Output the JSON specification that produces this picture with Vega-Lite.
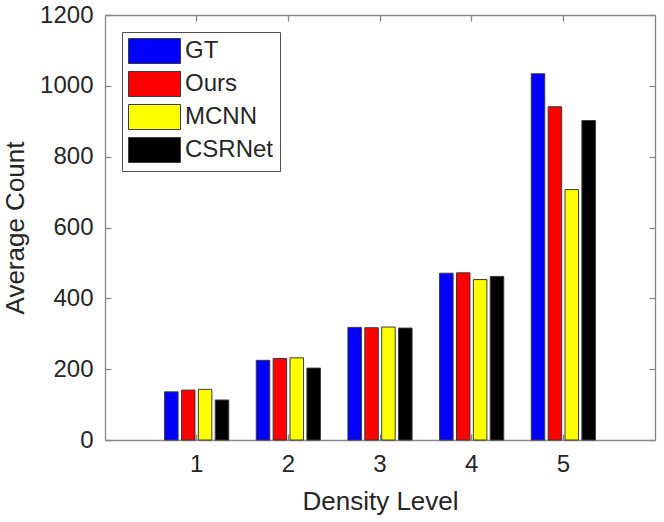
{
  "$schema": "https://vega.github.io/schema/vega-lite/v6.json",
  "autosize": {"type": "none"},
  "padding": {"left": 105, "top": 15, "right": 9, "bottom": 82},
  "width": 550,
  "height": 425,
  "data": {
    "values": [
      {"level": "1", "method": "GT", "count": 136},
      {"level": "1", "method": "Ours", "count": 141},
      {"level": "1", "method": "MCNN", "count": 143},
      {"level": "1", "method": "CSRNet", "count": 113},
      {"level": "2", "method": "GT", "count": 225},
      {"level": "2", "method": "Ours", "count": 230},
      {"level": "2", "method": "MCNN", "count": 232},
      {"level": "2", "method": "CSRNet", "count": 203},
      {"level": "3", "method": "GT", "count": 318},
      {"level": "3", "method": "Ours", "count": 317},
      {"level": "3", "method": "MCNN", "count": 319},
      {"level": "3", "method": "CSRNet", "count": 316},
      {"level": "4", "method": "GT", "count": 471},
      {"level": "4", "method": "Ours", "count": 472},
      {"level": "4", "method": "MCNN", "count": 453},
      {"level": "4", "method": "CSRNet", "count": 462},
      {"level": "5", "method": "GT", "count": 1034},
      {"level": "5", "method": "Ours", "count": 941},
      {"level": "5", "method": "MCNN", "count": 707},
      {"level": "5", "method": "CSRNet", "count": 902}
    ]
  },
  "layer": [
    {
      "mark": {"type": "bar", "stroke": "#3a3a3a", "strokeWidth": 1},
      "encoding": {
        "x": {
          "field": "level", "type": "nominal",
          "scale": {"paddingInner": 0.3, "paddingOuter": 0.65},
          "axis": {"title": "Density Level", "labelAngle": 0, "orient": "bottom", "titlePadding": 12}
        },
        "xOffset": {
          "field": "method", "type": "nominal",
          "sort": ["GT", "Ours", "MCNN", "CSRNet"],
          "scale": {"paddingInner": 0.2, "paddingOuter": 0}
        },
        "y": {
          "field": "count", "type": "quantitative",
          "scale": {"domain": [0, 1200], "nice": false},
          "axis": {"title": "Average Count", "format": "d", "values": [0, 200, 400, 600, 800, 1000, 1200], "orient": "left", "titlePadding": 11, "labelPadding": 18}
        },
        "color": {
          "field": "method", "type": "nominal",
          "sort": ["GT", "Ours", "MCNN", "CSRNet"],
          "scale": {"domain": ["GT", "Ours", "MCNN", "CSRNet"], "range": ["#0000ff", "#ff0000", "#ffff00", "#000000"]},
          "legend": {
            "orient": "none",
            "legendX": 17,
            "legendY": 17,
            "title": null,
            "padding": 6,
            "fillColor": "#ffffff",
            "strokeColor": "#4d4d4d",
            "symbolType": "M-1,-1 H3.16 V1 H-1 Z",
            "symbolSize": 625,
            "symbolStrokeColor": "#3a3a3a",
            "symbolStrokeWidth": 1,
            "symbolOpacity": 1,
            "labelOffset": 31,
            "rowPadding": 3,
            "labelFont": "Liberation Sans",
            "labelFontSize": 24,
            "labelColor": "#262626",
            "labelLimit": 200
          }
        }
      }
    },
    {
      "mark": {"type": "bar", "opacity": 0},
      "encoding": {
        "x": {
          "field": "level", "type": "nominal",
          "axis": {"title": null, "labels": false, "orient": "top"}
        },
        "xOffset": {"field": "method", "type": "nominal", "sort": ["GT", "Ours", "MCNN", "CSRNet"]},
        "y": {
          "field": "count", "type": "quantitative",
          "axis": {"title": null, "labels": false, "values": [0, 200, 400, 600, 800, 1000, 1200], "orient": "right"}
        }
      }
    }
  ],
  "resolve": {"axis": {"x": "independent", "y": "independent"}},
  "config": {
    "view": {"stroke": null},
    "axis": {
      "grid": false,
      "domainColor": "#868686",
      "domainWidth": 1.3,
      "tickColor": "#868686",
      "tickSize": -6,
      "tickWidth": 1.3,
      "labelFont": "Liberation Sans",
      "labelFontSize": 24,
      "labelColor": "#262626",
      "labelPadding": 18,
      "titleFont": "Liberation Sans",
      "titleFontSize": 26,
      "titleFontWeight": "normal",
      "titleColor": "#262626",
      "titlePadding": 10
    }
  }
}
